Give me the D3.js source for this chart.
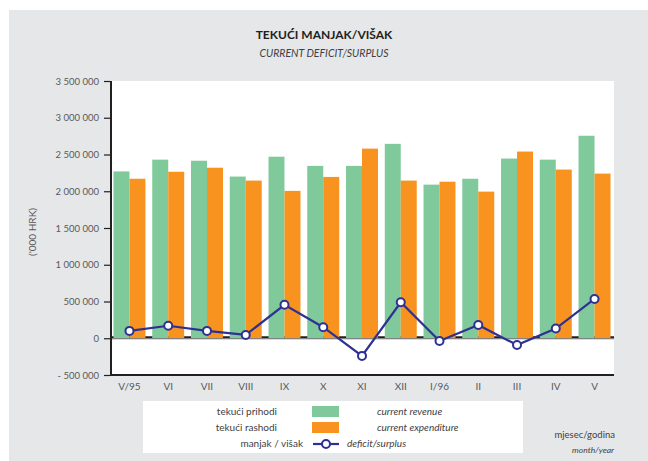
<!DOCTYPE html>
<html>
<head>
<meta charset="utf-8">
<script src="https://cdn.jsdelivr.net/npm/d3@7"></script>
<style>
  body { margin: 0; background: #fff; }
  text { font-family: Lato, "Open Sans", sans-serif; }
</style>
</head>
<body>
<svg id="drawing_region"></svg>
<script>
var months = ['V/95','VI','VII','VIII','IX','X','XI','XII','I/96','II','III','IV','V'];
var revenue = [2270000, 2430000, 2415000, 2200000, 2470000, 2345000, 2345000, 2645000, 2090000, 2170000, 2445000, 2430000, 2755000];
var expenditure = [2170000, 2265000, 2320000, 2145000, 2005000, 2195000, 2580000, 2145000, 2130000, 1995000, 2540000, 2295000, 2240000];
var balance = [100000, 170000, 100000, 45000, 455000, 150000, -240000, 490000, -37000, 180000, -92000, 132000, 535000];
var yTicks = [-500000, 0, 500000, 1000000, 1500000, 2000000, 2500000, 3000000, 3500000];

class DeficitChart {
  constructor( config ) {
      this.config = {
          parent: config.parent,
          width: config.width || 648,
          height: config.height || 461,
          margin: config.margin || {top: 81, right: 34, bottom: 86, left: 110}
      }
      this.init();
  }
  init() {
      let self = this;
      let m = self.config.margin;

      self.svg = d3.select( self.config.parent )
          .attr('width', self.config.width)
          .attr('height', self.config.height);

      // gray panel
      self.svg.append('rect')
          .attr('x', 9).attr('y', 10)
          .attr('width', self.config.width - 9)
          .attr('height', self.config.height - 10)
          .attr('fill', '#e6e7e8');

      self.inner_width = self.config.width - m.left - m.right;
      self.inner_height = self.config.height - m.top - m.bottom;

      self.chart = self.svg.append('g')
          .attr('transform', `translate(${m.left}, ${m.top})`);

      self.xscale = d3.scaleBand()
          .domain(months)
          .range([0, self.inner_width])
          .paddingInner(0.175)
          .paddingOuter(0.09);

      self.yscale = d3.scaleLinear()
          .domain([-500000, 3500000])
          .range([self.inner_height, 0]);
  }
  render() {
      let self = this;
      let fmt = d => d < 0 ? '- ' + d3.format(',')(-d).replace(/,/g, ' ') : d3.format(',')(d).replace(/,/g, ' ');

      self.chart.append('rect')
          .attr('width', self.inner_width)
          .attr('height', self.inner_height)
          .attr('fill', 'white');

      let y0 = self.yscale(0);
      self.chart.append('line')
          .attr('x1', 0).attr('x2', self.inner_width)
          .attr('y1', y0 - 1).attr('y2', y0 - 1)
          .attr('stroke', '#231f20').attr('stroke-width', 2);

      let bw = self.xscale.bandwidth() / 2;

      self.chart.selectAll('.rev')
          .data(revenue)
          .enter()
          .append('rect')
          .attr('x', (d, i) => self.xscale(months[i]))
          .attr('y', d => self.yscale(d))
          .attr('width', bw)
          .attr('height', d => y0 - self.yscale(d))
          .attr('fill', '#80c99b');

      self.chart.selectAll('.exp')
          .data(expenditure)
          .enter()
          .append('rect')
          .attr('x', (d, i) => self.xscale(months[i]) + bw)
          .attr('y', d => self.yscale(d))
          .attr('width', bw)
          .attr('height', d => y0 - self.yscale(d))
          .attr('fill', '#f7931e');

      self.chart.append('line')
          .attr('x1', 0).attr('x2', self.inner_width)
          .attr('y1', y0 + 0.5).attr('y2', y0 + 0.5)
          .attr('stroke', '#6d6e71').attr('stroke-width', 1);

      // y axis
      let yaxis = self.chart.append('g')
          .call(d3.axisLeft(self.yscale).tickValues(yTicks).tickSize(6).tickPadding(5).tickFormat(fmt));
      yaxis.select('.domain').remove();
      yaxis.selectAll('.tick line').attr('stroke', '#231f20').attr('stroke-width', 1.2);
      yaxis.selectAll('.tick text')
          .attr('fill', '#58595b')
          .style('font-size', '9.5px');

      // x axis labels
      let xaxis = self.chart.append('g')
          .attr('transform', `translate(0, ${self.inner_height})`)
          .call(d3.axisBottom(self.xscale).tickSize(0).tickPadding(8));
      xaxis.select('.domain').remove();
      xaxis.selectAll('.tick text')
          .attr('fill', '#58595b')
          .style('font-size', '10px');

      // frame lines
      self.chart.append('line')
          .attr('x1', 1).attr('x2', 1)
          .attr('y1', 0).attr('y2', self.inner_height + 1)
          .attr('stroke', '#231f20').attr('stroke-width', 2);
      self.chart.append('line')
          .attr('x1', 0).attr('x2', self.inner_width)
          .attr('y1', self.inner_height).attr('y2', self.inner_height)
          .attr('stroke', '#231f20').attr('stroke-width', 2);

      // balance line
      let cx = (d, i) => self.xscale(months[i]) + bw;
      let line = d3.line()
          .x((d, i) => cx(d, i))
          .y(d => self.yscale(d));

      self.chart.append('path')
          .datum(balance)
          .attr('d', line)
          .attr('fill', 'none')
          .attr('stroke', '#2e3192')
          .attr('stroke-width', 2.2);

      self.chart.selectAll('.pt')
          .data(balance)
          .enter()
          .append('circle')
          .attr('cx', (d, i) => cx(d, i))
          .attr('cy', d => self.yscale(d))
          .attr('r', 4)
          .attr('fill', 'white')
          .attr('stroke', '#2e3192')
          .attr('stroke-width', 2);

      // y label
      self.svg.append('text')
          .attr('transform', 'translate(36, 232) rotate(-90)')
          .attr('text-anchor', 'middle')
          .attr('fill', '#58595b')
          .style('font-size', '10px')
          .text("('000 HRK)");

      // titles
      self.svg.append('text')
          .attr('x', 324).attr('y', 39)
          .attr('text-anchor', 'middle')
          .attr('fill', '#231f20')
          .style('font-size', '12px')
          .style('font-weight', 'bold')
          .text('TEKUĆI MANJAK/VIŠAK');
      self.svg.append('text')
          .attr('x', 324).attr('y', 57)
          .attr('text-anchor', 'middle')
          .attr('fill', '#414042')
          .style('font-size', '10.5px')
          .style('font-style', 'italic')
          .text('CURRENT DEFICIT/SURPLUS');

      self.legend();
  }
  legend() {
      let self = this;
      let g = self.svg.append('g');
      g.append('rect')
          .attr('x', 143).attr('y', 401)
          .attr('width', 380).attr('height', 52)
          .attr('fill', 'white');

      let rows = [
          {hr: 'tekući prihodi', en: 'current revenue', color: '#80c99b', y: 415, ex: 377},
          {hr: 'tekući rashodi', en: 'current expenditure', color: '#f7931e', y: 431, ex: 377},
          {hr: 'manjak / višak', en: 'deficit/surplus', color: null, y: 447, ex: 347}
      ];

      rows.forEach( r => {
          g.append('text')
              .attr('x', r.color ? 277 : 303).attr('y', r.y)
              .attr('text-anchor', 'end')
              .attr('fill', '#414042')
              .style('font-size', '10px')
              .text(r.hr);
          g.append('text')
              .attr('x', r.ex).attr('y', r.y)
              .attr('fill', '#414042')
              .style('font-size', '10px')
              .style('font-style', 'italic')
              .text(r.en);
          if (r.color) {
              g.append('rect')
                  .attr('x', 312).attr('y', r.y - 9)
                  .attr('width', 27).attr('height', 11)
                  .attr('fill', r.color);
          } else {
              g.append('line')
                  .attr('x1', 313).attr('x2', 339)
                  .attr('y1', r.y - 3).attr('y2', r.y - 3)
                  .attr('stroke', '#2e3192').attr('stroke-width', 2.2);
              g.append('circle')
                  .attr('cx', 326).attr('cy', r.y - 3).attr('r', 4)
                  .attr('fill', 'white')
                  .attr('stroke', '#2e3192').attr('stroke-width', 2);
          }
      });

      self.svg.append('text')
          .attr('x', 615).attr('y', 438)
          .attr('text-anchor', 'end')
          .attr('fill', '#414042')
          .style('font-size', '9.5px')
          .text('mjesec/godina');
      self.svg.append('text')
          .attr('x', 614).attr('y', 453)
          .attr('text-anchor', 'end')
          .attr('fill', '#414042')
          .style('font-size', '8.5px')
          .style('font-style', 'italic')
          .text('month/year');
  }
}

const chart = new DeficitChart({ parent: '#drawing_region', width: 648, height: 461 });
chart.render();
</script>
</body>
</html>
